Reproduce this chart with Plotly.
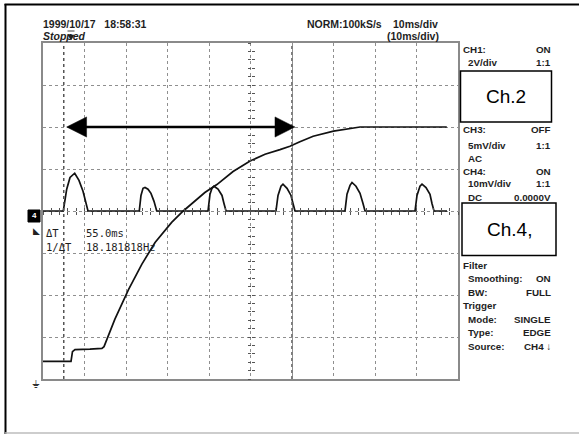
import plotly.graph_objects as go

# ---------------- data (time in ms, amplitude in divisions) ----------------
ch2_t = [0, 6.75, 7.1, 7.7, 11.3, 14.2, 14.7, 17.3, 20.6, 23.8, 27.0, 31.0, 33.8,
         36.6, 39.0, 41.9, 45.8, 49.9, 53.5, 57.1, 59.5, 61.9, 65.1, 70.0, 72.8,
         76.4, 81.2, 88.4, 97.3]
ch2_v = [-3.58, -3.58, -3.35, -3.30, -3.29, -3.27, -3.23, -2.58, -1.87, -1.27, -0.75,
         -0.27, 0.0, 0.23, 0.44, 0.63, 0.94, 1.19, 1.35, 1.46, 1.54, 1.65, 1.78,
         1.90, 1.95, 2.0, 2.0, 2.0, 2.0]

ch4_t = [0, 4.89, 5.71, 6.51, 7.64, 8.67, 9.64, 10.36, 10.84,
         23.20, 23.61, 24.10, 24.58, 25.30, 26.02, 26.75, 27.40,
         39.76, 40.24, 40.72, 41.20, 42.17, 43.13, 43.61, 44.10,
         56.14, 56.63, 57.35, 57.83, 58.80, 59.76, 60.24, 60.72,
         72.77, 73.25, 73.98, 74.46, 75.42, 76.39, 77.11, 77.59,
         89.64, 90.12, 90.84, 91.33, 92.29, 93.25, 93.73, 94.22, 97.35]
ch4_v = [0, 0, 0.52, 0.80, 0.90, 0.73, 0.47, 0.21, 0,
         0, 0.37, 0.54, 0.56, 0.52, 0.42, 0.23, 0,
         0, 0.40, 0.54, 0.59, 0.52, 0.37, 0.18, 0,
         0, 0.37, 0.59, 0.64, 0.54, 0.37, 0.18, 0,
         0, 0.40, 0.61, 0.68, 0.59, 0.42, 0.18, 0,
         0, 0.37, 0.59, 0.64, 0.56, 0.40, 0.18, 0, 0]

cursor_t = [5, 60]          # ms, cursor positions (ΔT = 55 ms)
arrow_level = 2.0           # div

header_left = "1999/10/17\u00a0\u00a0\u00a018:58:31"
header_state = "Stopped"
header_rate = "NORM:100kS/s"
header_tdiv = "10ms/div"
header_tdiv2 = "(10ms/div)"

panel_rows = [  # (label, value, indent, y_px)
    ("CH1:", "ON", False, 49),
    ("2V/div", "1:1", True, 62),
    ("CH3:", "OFF", False, 129),
    ("5mV/div", "1:1", True, 145),
    ("AC", "", True, 158),
    ("CH4:", "ON", False, 171),
    ("10mV/div", "1:1", True, 184),
    ("DC", "0.0000V", True, 197),
    ("Filter", "", False, 265),
    ("Smoothing:", "ON", True, 278),
    ("BW:", "FULL", True, 292),
    ("Trigger", "", False, 305),
    ("Mode:", "SINGLE", True, 319),
    ("Type:", "EDGE", True, 332),
    ("Source:", "CH4 \u2193", True, 346),
]

# ---------------- layout helpers ----------------
W, H = 579, 435
L, R, T, B = 43, 458, 43, 379


def PX(px):
    return (px - L) / (R - L)


def PY(py):
    return (B - py) / (B - T)


FONT = "Arial"
TXT = "#1e1e1e"

fig = go.Figure()
fig.add_trace(go.Scatter(x=ch2_t, y=ch2_v, mode="lines",
                         line=dict(color="#111", width=1.7), showlegend=False, hoverinfo="skip"))
fig.add_trace(go.Scatter(x=ch4_t, y=ch4_v, mode="lines",
                         line=dict(color="#111", width=1.7), showlegend=False, hoverinfo="skip"))
# empty traces to activate the centre tick axes
for k in (2, 3):
    fig.add_trace(go.Scatter(x=[], y=[], xaxis=f"x{k}", yaxis=f"y{k}", showlegend=False))

axis_common = dict(showticklabels=False, zeroline=False, ticks="",
                   showgrid=True, griddash="dot", gridcolor="#8f8f8f", gridwidth=1,
                   showline=True, mirror=True, linecolor="#8a8a8a", linewidth=2)

centre_common = dict(showticklabels=False, zeroline=False, showgrid=False, showline=False,
                     anchor="free", position=0.5, ticklen=3, tickcolor="#555", tickwidth=1)

fig.update_layout(
    width=W, height=H,
    margin=dict(l=L, r=W - R, t=T, b=H - B),
    paper_bgcolor="white", plot_bgcolor="white",
    xaxis=dict(range=[0, 100], dtick=10, tick0=0, **axis_common),
    yaxis=dict(range=[-4, 4], dtick=1, tick0=-4, **axis_common),
    xaxis2=dict(overlaying="x", range=[0, 100], dtick=2, tick0=0, ticks="inside", **centre_common),
    yaxis2=dict(overlaying="y", range=[-4, 4], dtick=0.2, tick0=0, ticks="inside", **centre_common),
    xaxis3=dict(overlaying="x", range=[0, 100], dtick=2, tick0=0, ticks="outside", **centre_common),
    yaxis3=dict(overlaying="y", range=[-4, 4], dtick=0.2, tick0=0, ticks="outside", **centre_common),
)

shapes = []
# cursors
for c in cursor_t:
    shapes.append(dict(type="line", xref="x", yref="y", x0=c, x1=c, y0=-4, y1=4,
                       line=dict(color="#555", width=1.5, dash="dot")))
# double arrow
t0, t1 = cursor_t
head_len, head_half = 4.8, 0.24
left_tip, right_tip = t0 + 0.7, t1 + 0.7
shapes.append(dict(type="line", xref="x", yref="y", x0=left_tip + head_len - 0.5, x1=right_tip - head_len + 0.5,
                   y0=arrow_level, y1=arrow_level, line=dict(color="black", width=2.5)))
shapes.append(dict(type="path", xref="x", yref="y",
                   path=f"M {left_tip} {arrow_level} L {left_tip + head_len} {arrow_level + head_half} "
                        f"L {left_tip + head_len} {arrow_level - head_half} Z",
                   fillcolor="black", line=dict(color="black", width=0.5)))
shapes.append(dict(type="path", xref="x", yref="y",
                   path=f"M {right_tip} {arrow_level} L {right_tip - head_len} {arrow_level + head_half} "
                        f"L {right_tip - head_len} {arrow_level - head_half} Z",
                   fillcolor="black", line=dict(color="black", width=0.5)))
# trigger position marker (small down triangle above the grid)
shapes.append(dict(type="path", xref="paper", yref="paper",
                   path=f"M {PX(68)} {PY(35)} L {PX(74)} {PY(35)} L {PX(71)} {PY(40)} Z",
                   fillcolor="#222", line=dict(color="#222", width=0.5)))
shapes.append(dict(type="line", xref="paper", yref="paper", x0=PX(67.5), x1=PX(74.5), y0=PY(31), y1=PY(31),
                   line=dict(color="#444", width=1)))
# outer frame
shapes.append(dict(type="line", xref="paper", yref="paper", x0=PX(4.5), x1=PX(579), y0=PY(4.5), y1=PY(4.5),
                   line=dict(color="black", width=2)))
shapes.append(dict(type="line", xref="paper", yref="paper", x0=PX(5.5), x1=PX(5.5), y0=PY(4), y1=PY(434),
                   line=dict(color="black", width=2)))
shapes.append(dict(type="line", xref="paper", yref="paper", x0=PX(5), x1=PX(579), y0=PY(433), y1=PY(433),
                   line=dict(color="#bdbdbd", width=1.5)))
# channel label boxes
shapes.append(dict(type="rect", xref="paper", yref="paper", x0=PX(460.5), x1=PX(551.5), y0=PY(71), y1=PY(122),
                   line=dict(color="black", width=1.5), fillcolor="white"))
shapes.append(dict(type="rect", xref="paper", yref="paper", x0=PX(462), x1=PX(556), y0=PY(203), y1=PY(255.5),
                   line=dict(color="black", width=1.5), fillcolor="white"))
# channel 4 marker
shapes.append(dict(type="rect", xref="paper", yref="paper", x0=PX(28), x1=PX(40), y0=PY(210), y1=PY(222),
                   line=dict(color="black", width=1), fillcolor="black"))
fig.update_layout(shapes=shapes)

anns = []


def ann(text, px, py, xanchor="left", size=9, color=TXT, family=FONT):
    anns.append(dict(text=text, x=PX(px), y=PY(py), xref="paper", yref="paper",
                     xanchor=xanchor, yanchor="middle", showarrow=False,
                     font=dict(size=size, color=color, family=family)))


ann(f"<b>{header_left}</b>", 41, 23.5, size=10.5)
ann(f"<b><i>{header_state}</i></b>", 41, 36.5, size=10.5)
ann(f"<b>{header_rate}</b>", 305, 23.5, size=10.5)
ann(f"<b>{header_tdiv}</b>", 391, 23.5, size=10.5)
ann(f"<b>{header_tdiv2}</b>", 385, 36.5, size=10.5)

for label, value, indent, y in panel_rows:
    ann(f"<b>{label}</b>", 465.5 if indent else 461.5, y, size=9.8)
    if value:
        ann(f"<b>{value}</b>", 553, y, xanchor="right", size=9.8)

ann("Ch.2", 506, 96.5, xanchor="center", size=19, color="black")
ann("Ch.4,", 509, 229.5, xanchor="center", size=19, color="black")

ann("<b>4</b>", 34, 216, xanchor="center", size=8, color="white")
ann("\u25E3", 36, 231, xanchor="center", size=9, color="#222")
mono = "DejaVu Sans Mono"
ann("\u0394T", 44, 233, size=10.5, family=mono)
ann("55.0ms", 84, 233, size=10.5, family=mono)
ann("1/\u0394T", 44, 247, size=10.5, family=mono)
ann("18.181818Hz", 84, 247, size=10.5, family=mono)
ann("\u23DA", 36, 384, xanchor="center", size=11, color="#333", family="DejaVu Sans")

fig.update_layout(annotations=anns)

fig.write_html("out.html", config={"displayModeBar": False},
               post_script="document.body.style.margin='0px';document.body.style.overflow='hidden';")
